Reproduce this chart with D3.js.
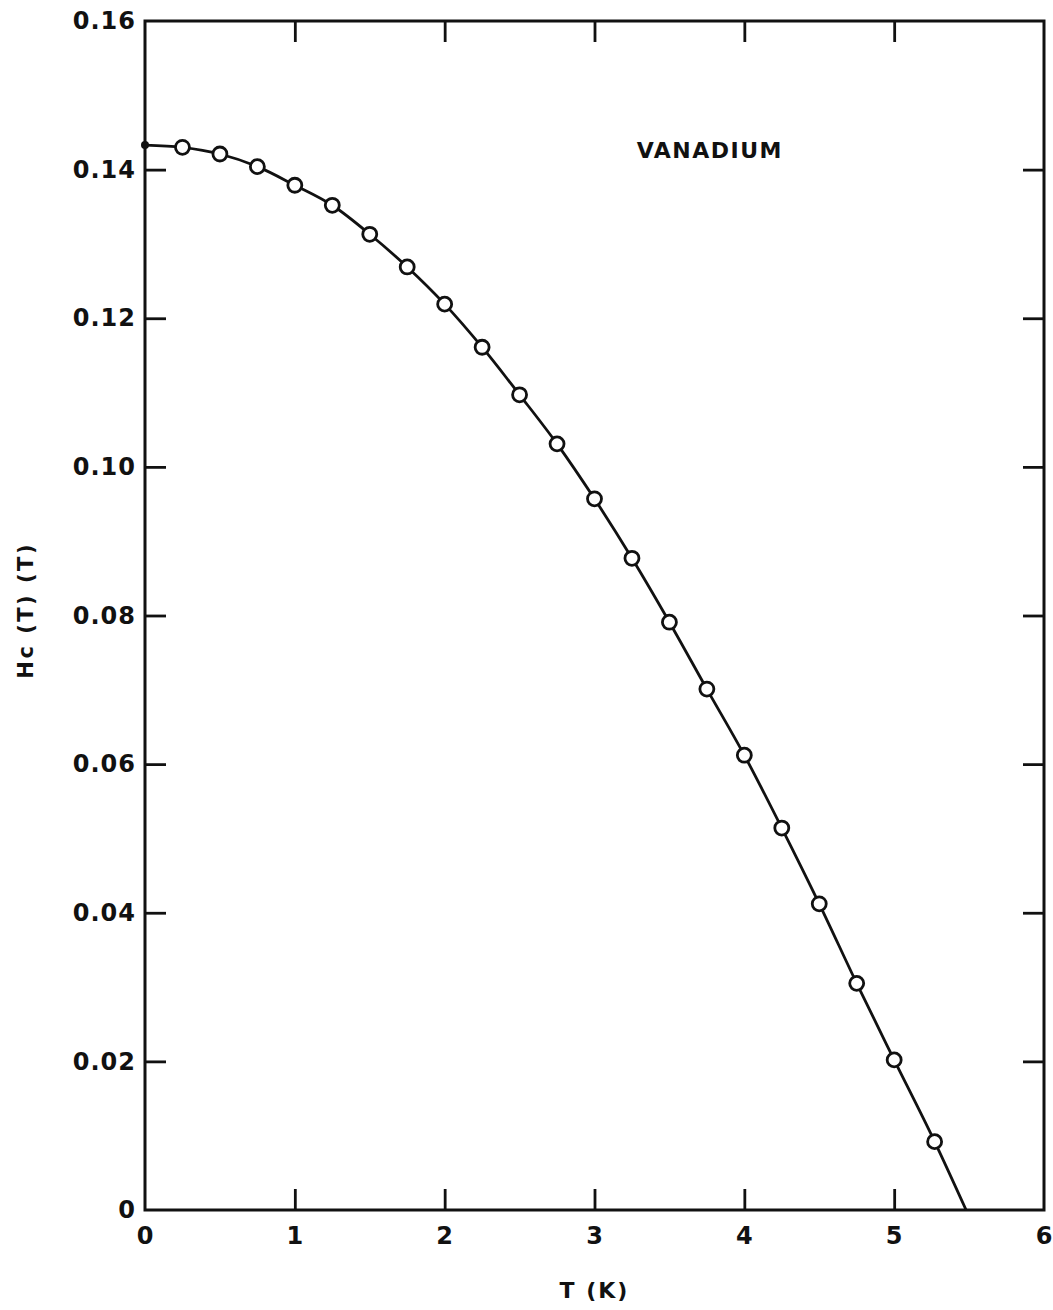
<!DOCTYPE html>
<html lang="en">
<head>
    <meta charset="UTF-8">
    <title>Vanadium critical field</title>
    <script src="https://d3js.org/d3.v7.min.js"></script>
    <style>
        body { margin: 0; background: #fff; }
        text { font-family: "DejaVu Sans", sans-serif; fill: #111; }
    </style>
</head>
<body>
    <script>
        // measured points (T in K, Hc in tesla)
        const tPoints = [0.25, 0.5, 0.75, 1.0, 1.25, 1.5, 1.75, 2.0, 2.25, 2.5, 2.75,
            3.0, 3.25, 3.5, 3.75, 4.0, 4.25, 4.5, 4.75, 5.0, 5.27];
        const hcPoints = [0.1430, 0.1421, 0.1404, 0.1379, 0.1352, 0.1313, 0.1269, 0.1219,
            0.1161, 0.1097, 0.1031, 0.0957, 0.0877, 0.0791, 0.0701, 0.0612, 0.0514,
            0.0412, 0.0305, 0.0202, 0.0092];
        // ends of the drawn curve
        const hc0 = 0.1433;
        const tc = 5.48;

        const xTicks = [0, 1, 2, 3, 4, 5, 6];
        const yTicks = [0, 0.02, 0.04, 0.06, 0.08, 0.10, 0.12, 0.14, 0.16];

        const width = 1053, height = 1310;
        const margin = { top: 21, right: 9, bottom: 100, left: 145 };
        const w = width - margin.left - margin.right;
        const h = height - margin.top - margin.bottom;

        const svg = d3.select("body").append("svg")
            .attr("width", width)
            .attr("height", height);

        const g = svg.append("g")
            .attr("transform", `translate(${margin.left},${margin.top})`);

        const x = d3.scaleLinear().domain([0, 6]).range([0, w]);
        const y = d3.scaleLinear().domain([0, 0.16]).range([h, 0]);

        const tickLen = 21;
        const fmtY = d => d === 0 ? "0" : d3.format(".2f")(d);

        // ticks point inward on all four sides
        const axLeft = g.append("g")
            .call(d3.axisLeft(y).tickValues(yTicks).tickSize(-tickLen).tickPadding(9).tickFormat(fmtY));
        const axRight = g.append("g").attr("transform", `translate(${w},0)`)
            .call(d3.axisRight(y).tickValues(yTicks.slice(1, -1)).tickSize(-tickLen).tickFormat(""));
        const axBottom = g.append("g").attr("transform", `translate(0,${h})`)
            .call(d3.axisBottom(x).tickValues(xTicks).tickSize(-tickLen).tickPadding(14).tickFormat(d3.format("d")));
        const axTop = g.append("g")
            .call(d3.axisTop(x).tickValues(xTicks.slice(1, -1)).tickSize(-tickLen).tickFormat(""));

        [axLeft, axRight, axBottom, axTop].forEach(a => {
            a.select(".domain").remove();
            a.selectAll(".tick line").attr("stroke", "#111").attr("stroke-width", 2.8);
            a.selectAll(".tick text")
                .style("font-size", "24px")
                .style("font-weight", "bold")
                .style("letter-spacing", "1px")
                .attr("fill", "#111");
        });
        axBottom.selectAll(".tick text").attr("dy", "0.85em");
        // corner ticks coincide with the frame
        axLeft.selectAll(".tick line").filter(d => d === 0 || d === 0.16).remove();
        axBottom.selectAll(".tick line").filter(d => d === 0 || d === 6).remove();

        g.append("rect")
            .attr("width", w).attr("height", h)
            .attr("fill", "none")
            .attr("stroke", "#111")
            .attr("stroke-width", 3);

        // curve through the points
        const curveData = [[0, hc0]].concat(tPoints.map((t, i) => [t, hcPoints[i]]), [[tc, 0]]);
        const line = d3.line()
            .x(d => x(d[0]))
            .y(d => y(d[1]))
            .curve(d3.curveMonotoneX);

        g.append("path")
            .datum(curveData)
            .attr("d", line)
            .attr("fill", "none")
            .attr("stroke", "#111")
            .attr("stroke-width", 2.8);

        g.append("circle")
            .attr("cx", x(0)).attr("cy", y(hc0))
            .attr("r", 4).attr("fill", "#111");

        g.selectAll(".pt")
            .data(tPoints.map((t, i) => [t, hcPoints[i]]))
            .enter().append("circle")
            .attr("class", "pt")
            .attr("cx", d => x(d[0]))
            .attr("cy", d => y(d[1]))
            .attr("r", 7)
            .attr("fill", "#fff")
            .attr("stroke", "#111")
            .attr("stroke-width", 2.8);

        g.append("text")
            .attr("x", x(3.77)).attr("y", y(0.1415))
            .attr("text-anchor", "middle")
            .style("font-size", "22px")
            .style("font-weight", "bold")
            .style("letter-spacing", "1.5px")
            .text("VANADIUM");

        // axis titles
        svg.append("text")
            .attr("x", margin.left + x(3)).attr("y", 1298)
            .attr("text-anchor", "middle")
            .style("font-size", "22px")
            .style("font-weight", "bold")
            .style("letter-spacing", "2px")
            .text("T (K)");

        svg.append("text")
            .attr("transform", `translate(33,${margin.top + y(0.0807)}) rotate(-90)`)
            .attr("text-anchor", "middle")
            .style("font-size", "21px")
            .style("font-weight", "bold")
            .style("letter-spacing", "2.5px")
            .text("Hc (T) (T)");
    </script>
</body>
</html>
